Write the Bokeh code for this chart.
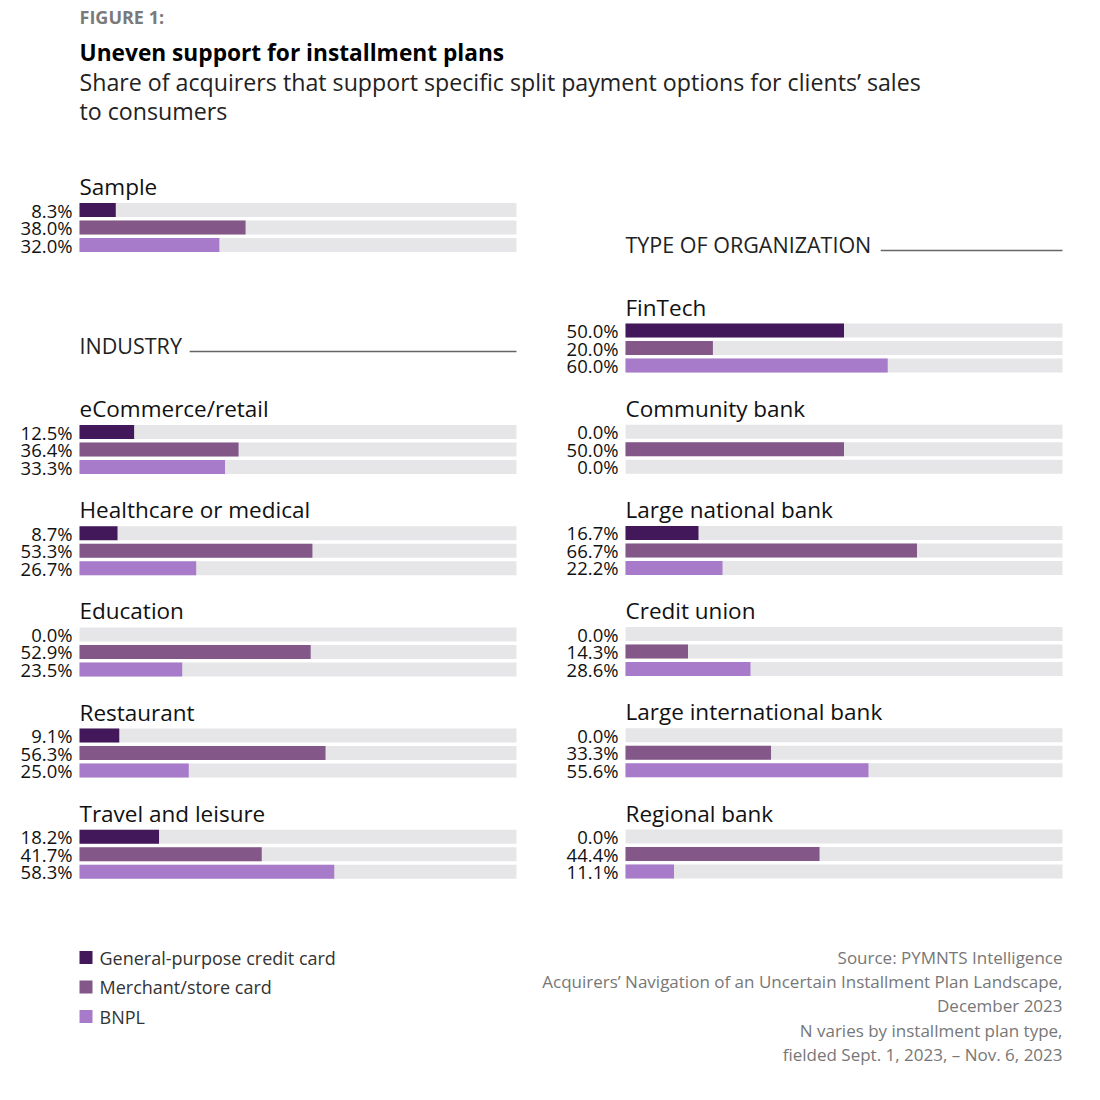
from bokeh.plotting import figure
from bokeh.models import Range1d, ColumnDataSource
from bokeh.core.properties import value
from bokeh.embed import file_html
from bokeh.resources import INLINE

# ---------------- data ----------------
series = ["General-purpose credit card", "Merchant/store card", "BNPL"]
colors = ["#43185a", "#835888", "#a87bca"]

sample_name = "Sample"
sample_vals = [8.3, 38.0, 32.0]

industry_groups = ["eCommerce/retail", "Healthcare or medical", "Education",
                   "Restaurant", "Travel and leisure"]
industry_credit = [12.5, 8.7, 0.0, 9.1, 18.2]
industry_store = [36.4, 53.3, 52.9, 56.3, 41.7]
industry_bnpl = [33.3, 26.7, 23.5, 25.0, 58.3]

org_groups = ["FinTech", "Community bank", "Large national bank", "Credit union",
              "Large international bank", "Regional bank"]
org_credit = [50.0, 0.0, 16.7, 0.0, 0.0, 0.0]
org_store = [20.0, 50.0, 66.7, 14.3, 33.3, 44.4]
org_bnpl = [60.0, 0.0, 22.2, 28.6, 55.6, 11.1]

source_lines = ["Source: PYMNTS Intelligence",
                "Acquirers\u2019 Navigation of an Uncertain Installment Plan Landscape,",
                "December 2023",
                "N varies by installment plan type,",
                "fielded Sept. 1, 2023, \u2013 Nov. 6, 2023"]

# ---------------- layout ----------------
W = H = 1084
FONT = "Open Sans"
TRACK = "#e6e6e8"

p = figure(width=W, height=H, output_backend="svg", toolbar_location=None,
           x_range=Range1d(-18.08, 229.98), y_range=Range1d(1085, 1),
           min_border=0)
p.extra_x_ranges = {"right": Range1d(-143.02, 105.03)}
p.axis.visible = False
p.grid.visible = False
p.outline_line_color = None
p.background_fill_color = "white"
p.border_fill_color = "white"

BAR_H = 14
ROW = 17.5


def draw_group(name, vals, ty, rng):
    kw = {} if rng == "default" else {"x_range_name": rng}
    p.text(x=[0], y=[ty], text=[name], text_font=value(FONT), text_font_size="22.5px",
           text_color="#111111", text_baseline="middle", text_align="left", **kw)
    ys = [ty + 23.5 + i * ROW for i in range(3)]
    p.hbar(y=ys, left=0, right=100, height=BAR_H, fill_color=TRACK, line_color=None, **kw)
    p.hbar(y=ys, left=0, right=vals, height=BAR_H, fill_color=colors, line_color=None, **kw)
    p.text(x=[0, 0, 0], y=ys, text=[f"{v:.1f}%" for v in vals], x_offset=-7,
           text_font=value(FONT), text_font_size="18.5px", text_color="#111111",
           text_baseline="middle", text_align="right", **kw)


# header texts
p.text(x=[0], y=[17], text=["FIGURE 1:"], text_font=value(FONT), text_font_style="bold",
       text_font_size="18px", text_color="#7a7a7a", text_baseline="middle")
p.text(x=[0], y=[53], text=["Uneven support for installment plans"], text_font=value(FONT),
       text_font_style="bold", text_font_size="22.7px", text_color="#000000",
       text_baseline="middle")
p.text(x=[0, 0], y=[82, 111],
       text=["Share of acquirers that support specific split payment options for clients\u2019 sales",
             "to consumers"],
       text_font=value(FONT), text_font_size="23.2px", text_color="#222222",
       text_baseline="middle")

# sample
draw_group(sample_name, sample_vals, 187, "default")

# section headers
p.text(x=[0], y=[346], text=["INDUSTRY"], text_font=value(FONT), text_font_size="21.5px",
       text_color="#222222", text_baseline="middle")
p.segment(x0=[25.2], x1=[100], y0=[352], y1=[352], line_color="#666666", line_width=1.5)
p.text(x=[0], y=[245], text=["TYPE OF ORGANIZATION"], text_font=value(FONT),
       text_font_size="21.5px", text_color="#222222", text_baseline="middle",
       x_range_name="right")
p.segment(x0=[58.4], x1=[100], y0=[251], y1=[251], line_color="#666666", line_width=1.5,
          x_range_name="right")

GROUP_STEP = 101.2
for i, g in enumerate(industry_groups):
    draw_group(g, [industry_credit[i], industry_store[i], industry_bnpl[i]],
               409 + i * GROUP_STEP, "default")
for i, g in enumerate(org_groups):
    draw_group(g, [org_credit[i], org_store[i], org_bnpl[i]],
               307.5 + i * GROUP_STEP, "right")

# legend
ly = [958, 987.5, 1017]
lsrc = ColumnDataSource(dict(x=[0, 0, 0], y=ly, c=colors, t=series))
p.block(x=[0, 0, 0], y=[v + 6.5 for v in ly], width=13 / 4.37, height=13,
        fill_color=colors, line_color=None)
p.text(x="x", y="y", text="t", source=lsrc, x_offset=20, text_font=value(FONT),
       text_font_size="18px", text_color="#333333", text_baseline="middle")

# source
p.text(x=[100] * 5, y=[958, 982, 1006, 1030.5, 1055], text=source_lines,
       text_font=value(FONT), text_font_size="17px", text_color="#777777",
       text_baseline="middle", text_align="right", x_range_name="right")

open("out.html", "w").write(file_html(p, INLINE))
